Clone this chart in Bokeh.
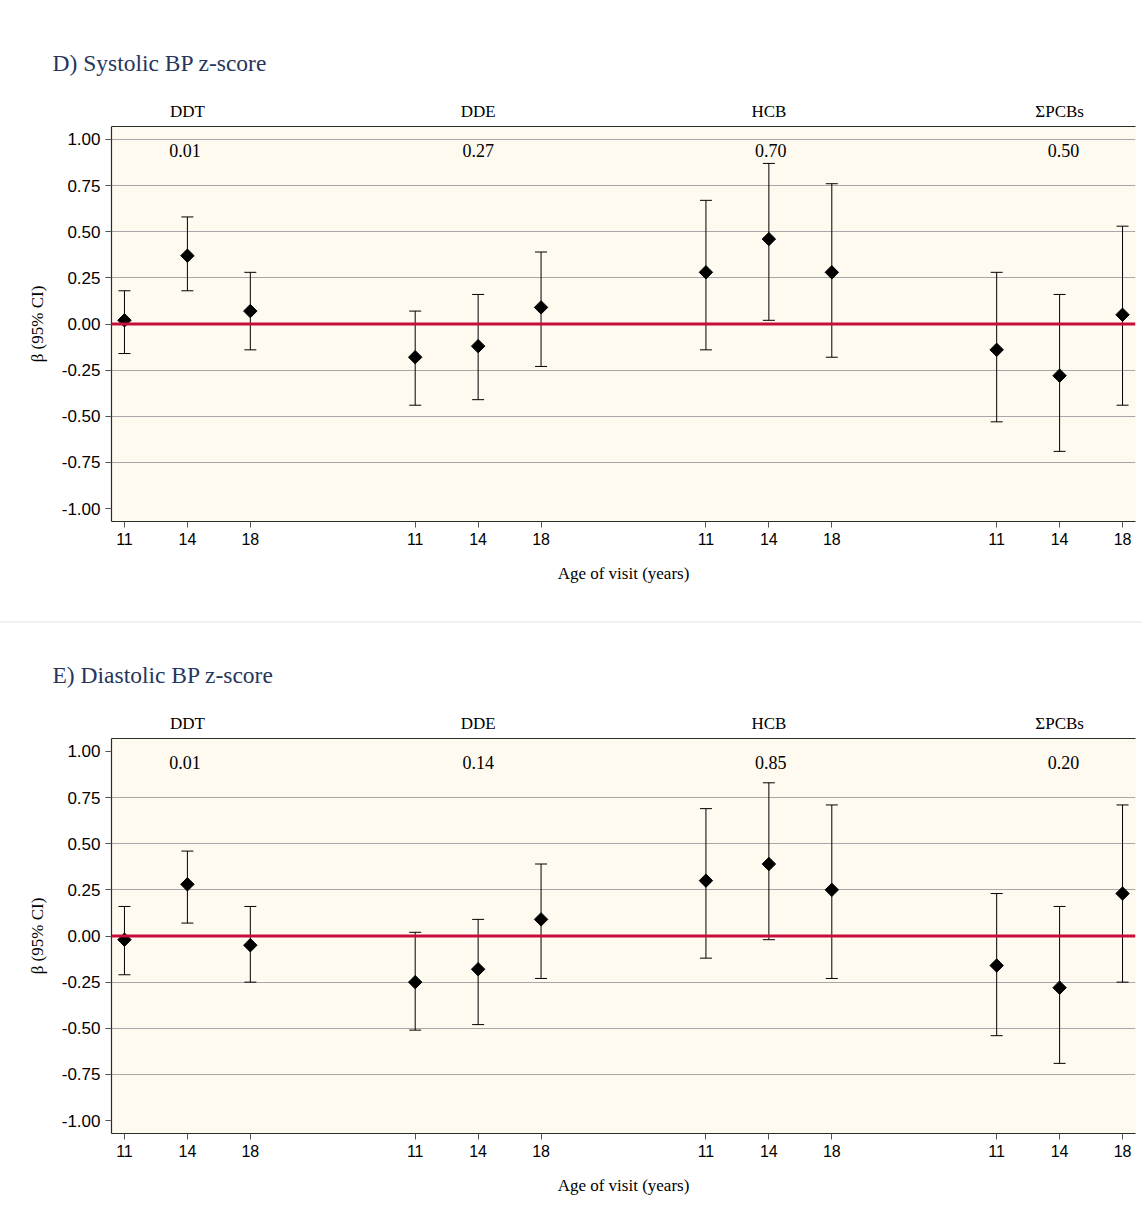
import math
from bokeh.plotting import figure
from bokeh.models import (ColumnDataSource, Whisker, TeeHead, Span, Label, LinearAxis,
                          FixedTicker, Range1d, NumeralTickFormatter)
from bokeh.layouts import column
from bokeh.embed import file_html
from bokeh.resources import INLINE

# ---------------- data ----------------
compounds = ["DDT", "DDE", "HCB", "\u03a3PCBs"]
ages = ["11", "14", "18"]

# D) Systolic BP z-score
sys_beta = [0.02, 0.37, 0.07, -0.18, -0.12, 0.09, 0.28, 0.46, 0.28, -0.14, -0.28, 0.05]
sys_lower = [-0.16, 0.18, -0.14, -0.44, -0.41, -0.23, -0.14, 0.02, -0.18, -0.53, -0.69, -0.44]
sys_upper = [0.18, 0.58, 0.28, 0.07, 0.16, 0.39, 0.67, 0.87, 0.76, 0.28, 0.16, 0.53]
sys_p = ["0.01", "0.27", "0.70", "0.50"]

# E) Diastolic BP z-score
dia_beta = [-0.02, 0.28, -0.05, -0.25, -0.18, 0.09, 0.30, 0.39, 0.25, -0.16, -0.28, 0.23]
dia_lower = [-0.21, 0.07, -0.25, -0.51, -0.48, -0.23, -0.12, -0.02, -0.23, -0.54, -0.69, -0.25]
dia_upper = [0.16, 0.46, 0.16, 0.02, 0.09, 0.39, 0.69, 0.83, 0.71, 0.23, 0.16, 0.71]
dia_p = ["0.01", "0.14", "0.85", "0.20"]

y_ticks = [-1.0, -0.75, -0.5, -0.25, 0.0, 0.25, 0.5, 0.75, 1.0]

# ---------------- layout helpers ----------------
GAP = 4.62  # distance between compound groups (in slot units)
positions = [g * GAP + i for g in range(len(compounds)) for i in range(len(ages))]
tick_labels = {p: ages[i % len(ages)] for i, p in enumerate(positions)}
group_centers = [g * GAP + 1 for g in range(len(compounds))]
group_labels = {c: n for c, n in zip(group_centers, compounds)}
p_offsets = [-0.04, 0.0, 0.03, 0.06]  # slight drift of p-value labels

SERIF = "Liberation Serif"
SANS = "Liberation Sans"
TITLE_COLOR = "#26365c"


def make_panel(title, beta, lower, upper, pvals, height, top, bottom, grid_ticks):
    p = figure(width=1142, height=height, output_backend="svg", toolbar_location=None,
               x_range=Range1d(-0.206, positions[-1] + 0.206),
               y_range=Range1d(-1.07, 1.07),
               min_border_left=111, min_border_right=7,
               min_border_top=top, min_border_bottom=bottom,
               background_fill_color="#fefaf0", border_fill_color="white",
               outline_line_color=None,
               styles={"outline": "1px solid #edf1f1"})

    # title
    p.title.text = title
    p.title.align = "left"
    p.title.offset = -59
    p.title.text_font = SERIF
    p.title.text_font_style = "normal"
    p.title.text_font_size = "23.5px"
    p.title.text_color = TITLE_COLOR
    p.title.standoff = 45

    # axes
    p.xaxis.ticker = FixedTicker(ticks=positions)
    p.xaxis.major_label_overrides = tick_labels
    p.xaxis.axis_label = "Age of visit (years)"
    p.yaxis.ticker = FixedTicker(ticks=y_ticks)
    p.yaxis.formatter = NumeralTickFormatter(format="0.00")
    p.yaxis.axis_label = "\u03b2 (95% CI)"
    for ax in (p.xaxis[0], p.yaxis[0]):
        ax.axis_line_color = "#2b2b2b"
        ax.axis_line_width = 1.2
        ax.major_tick_line_color = "#555555"
        ax.major_tick_out = 6
        ax.major_tick_in = 0
        ax.minor_tick_line_color = None
        ax.major_label_text_font = SANS
        ax.major_label_text_color = "black"
        ax.axis_label_text_font = SERIF
        ax.axis_label_text_font_style = "normal"
        ax.axis_label_text_color = "black"
        ax.axis_label_text_font_size = "17px"
    p.xaxis.major_label_text_font_size = "16px"
    p.yaxis.major_label_text_font_size = "17px"
    p.xaxis.major_label_standoff = 5
    p.yaxis.major_label_standoff = 5
    p.xaxis.axis_label_standoff = 16
    p.yaxis.axis_label_standoff = 12

    # top frame line + compound group labels
    top_ax = LinearAxis(ticker=FixedTicker(ticks=group_centers),
                        major_label_overrides=group_labels,
                        axis_line_color="#2b2b2b", axis_line_width=1.2,
                        major_tick_line_color=None, minor_tick_line_color=None,
                        major_label_text_font=SERIF, major_label_text_font_size="17px",
                        major_label_text_color="black", major_label_standoff=0)
    p.add_layout(top_ax, "above")

    # grid
    p.xgrid.grid_line_color = None
    p.ygrid.ticker = FixedTicker(ticks=grid_ticks)
    p.ygrid.grid_line_color = "#a8a8a8"
    p.ygrid.grid_line_width = 1

    # zero line
    p.add_layout(Span(location=0, dimension="width", line_color="#c70d3a", line_width=3))

    src = ColumnDataSource(dict(x=positions, beta=beta, lower=lower, upper=upper))
    w = Whisker(source=src, base="x", lower="lower", upper="upper",
                line_color="black", line_width=1,
                upper_head=TeeHead(size=12, line_color="black", line_width=1),
                lower_head=TeeHead(size=12, line_color="black", line_width=1))
    p.add_layout(w)
    p.scatter("x", "beta", source=src, marker="square", angle=math.pi / 4, size=9.5,
              fill_color="black", line_color="black")

    # p-values
    for gx, off, pv in zip(group_centers, p_offsets, pvals):
        p.add_layout(Label(x=gx + off, y=0.94, text=pv, text_align="center",
                           text_baseline="alphabetic", text_font=SERIF,
                           text_font_size="18px", text_color="black"))
    return p


grid_d = [-0.75, -0.5, -0.25, 0.25, 0.5, 0.75, 1.0]
grid_e = [-0.75, -0.5, -0.25, 0.25, 0.5, 0.75]

pd_ = make_panel("D) Systolic BP z-score", sys_beta, sys_lower, sys_upper, sys_p,
                 622, 126, 101, grid_d)
pe_ = make_panel("E) Diastolic BP z-score", dia_beta, dia_lower, dia_upper, dia_p,
                 606, 116, 95, grid_e)

layout = column(pd_, pe_, spacing=0)
open("out.html", "w").write(file_html(layout, INLINE))
